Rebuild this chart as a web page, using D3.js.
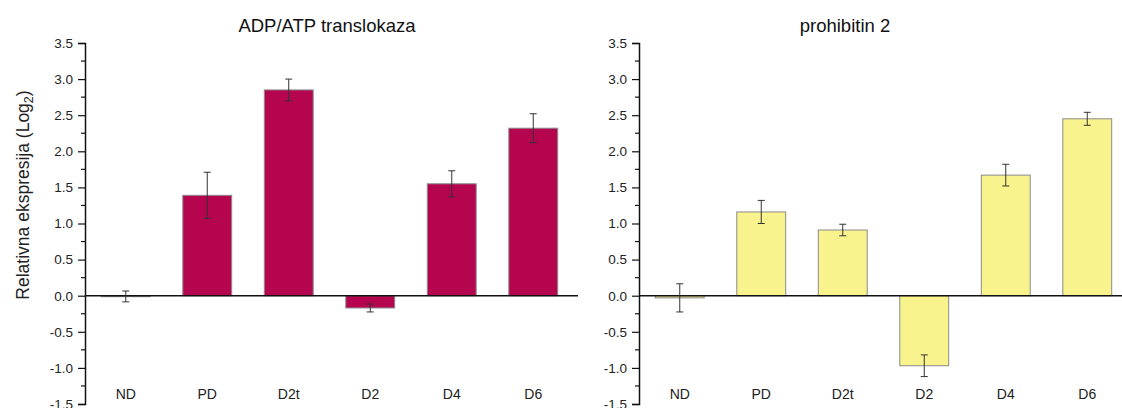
<!DOCTYPE html>
<html>
<head>
<meta charset="utf-8">
<script src="https://cdn.jsdelivr.net/npm/d3@7"></script>
<style>
  html, body { margin: 0; padding: 0; background: #fff; }
  svg { display: block; font-family: Arial, "Liberation Sans", sans-serif; }
</style>
</head>
<body>
<svg id="chart" width="1122" height="408"></svg>
<script>
// Sample groups shared by both panels
const categories = ["ND", "PD", "D2t", "D2", "D4", "D6"];

// ADP/ATP translokaza: mean log2 relative expression and error
const adpAtpValues = [-0.01, 1.39, 2.85, -0.17, 1.55, 2.32];
const adpAtpErrors = [0.075, 0.32, 0.15, 0.055, 0.18, 0.20];

// prohibitin 2: mean log2 relative expression and error
const prohibitinValues = [-0.03, 1.16, 0.91, -0.97, 1.67, 2.45];
const prohibitinErrors = [0.195, 0.16, 0.08, 0.15, 0.15, 0.09];

// Y axis tick labels
const yTicks = [-1.5, -1.0, -0.5, 0.0, 0.5, 1.0, 1.5, 2.0, 2.5, 3.0, 3.5];

const svg = d3.select("#chart");

const yTop = 43, yBottom = 404;
const plotWidth = 489;

const y = d3.scaleLinear().domain([-1.5, 3.5]).range([yBottom, yTop]);

const panels = [
  { title: "ADP/ATP translokaza", values: adpAtpValues, errors: adpAtpErrors,
    axisX: 85, titleX: 327, fill: "#B5054F" },
  { title: "prohibitin 2", values: prohibitinValues, errors: prohibitinErrors,
    axisX: 639, titleX: 845, fill: "#F8F38C" }
];

panels.forEach(p => {
  const g = svg.append("g");

  const x = d3.scaleBand()
    .domain(categories)
    .range([p.axisX, p.axisX + plotWidth])
    .paddingInner(0.4)
    .paddingOuter(0.2);

  // Bars
  g.selectAll("rect.bar")
    .data(categories)
    .join("rect")
    .attr("class", "bar")
    .attr("x", d => x(d))
    .attr("width", x.bandwidth())
    .attr("y", (d, i) => y(Math.max(0, p.values[i])))
    .attr("height", (d, i) => Math.max(1, Math.abs(y(p.values[i]) - y(0))))
    .attr("fill", p.fill)
    .attr("stroke", "#8a8a8a")
    .attr("stroke-width", 1);

  // Zero baseline
  g.append("line")
    .attr("x1", p.axisX).attr("x2", p.axisX + plotWidth + 4)
    .attr("y1", y(0)).attr("y2", y(0))
    .attr("stroke", "#111").attr("stroke-width", 1.5);

  // Error bars
  const capHalf = 3.5;
  const eb = g.selectAll("g.err")
    .data(categories)
    .join("g")
    .attr("class", "err")
    .attr("stroke", "#333")
    .attr("stroke-width", 1);
  eb.append("line")
    .attr("x1", d => x(d) + x.bandwidth() / 2)
    .attr("x2", d => x(d) + x.bandwidth() / 2)
    .attr("y1", (d, i) => y(p.values[i] + p.errors[i]))
    .attr("y2", (d, i) => y(p.values[i] - p.errors[i]));
  eb.append("line")
    .attr("x1", d => x(d) + x.bandwidth() / 2 - capHalf)
    .attr("x2", d => x(d) + x.bandwidth() / 2 + capHalf)
    .attr("y1", (d, i) => y(p.values[i] + p.errors[i]))
    .attr("y2", (d, i) => y(p.values[i] + p.errors[i]));
  eb.append("line")
    .attr("x1", d => x(d) + x.bandwidth() / 2 - capHalf)
    .attr("x2", d => x(d) + x.bandwidth() / 2 + capHalf)
    .attr("y1", (d, i) => y(p.values[i] - p.errors[i]))
    .attr("y2", (d, i) => y(p.values[i] - p.errors[i]));

  // Y axis with major ticks
  const yAxis = d3.axisLeft(y)
    .tickValues(yTicks)
    .tickFormat(d3.format(".1f"))
    .tickSize(7)
    .tickPadding(5);
  const ya = g.append("g")
    .attr("transform", `translate(${p.axisX},0)`)
    .call(yAxis);
  ya.select(".domain").attr("stroke", "#111").attr("stroke-width", 1.5);
  ya.selectAll(".tick line").attr("stroke", "#111").attr("stroke-width", 1.2);
  ya.selectAll(".tick text")
    .attr("font-size", 13.5)
    .attr("fill", "#222")
    .text(d => d < 0 ? "-" + Math.abs(d).toFixed(1) : d.toFixed(1));

  // Minor ticks between major ticks
  const minor = d3.range(yTicks.length - 1).map(i => (yTicks[i] + yTicks[i + 1]) / 2);
  g.selectAll("line.minor")
    .data(minor)
    .join("line")
    .attr("class", "minor")
    .attr("x1", p.axisX - 4).attr("x2", p.axisX)
    .attr("y1", d => y(d)).attr("y2", d => y(d))
    .attr("stroke", "#111").attr("stroke-width", 1.2);

  // Category labels near the bottom of the plot
  g.selectAll("text.cat")
    .data(categories)
    .join("text")
    .attr("class", "cat")
    .attr("x", d => x(d) + x.bandwidth() / 2)
    .attr("y", 399)
    .attr("text-anchor", "middle")
    .attr("font-size", 14)
    .attr("fill", "#222")
    .text(d => d);

  // Panel title
  g.append("text")
    .attr("x", p.titleX)
    .attr("y", 32)
    .attr("text-anchor", "middle")
    .attr("font-size", 18.5)
    .attr("fill", "#111")
    .text(p.title);
});

// Shared y axis title
const yTitle = svg.append("text")
  .attr("transform", "translate(29,195) rotate(-90)")
  .attr("text-anchor", "middle")
  .attr("font-size", 17.5)
  .attr("fill", "#222");
yTitle.append("tspan").text("Relativna ekspresija (Log");
yTitle.append("tspan").attr("font-size", 12.5).attr("dy", 4).text("2");
yTitle.append("tspan").attr("dy", -4).text(")");
</script>
</body>
</html>
